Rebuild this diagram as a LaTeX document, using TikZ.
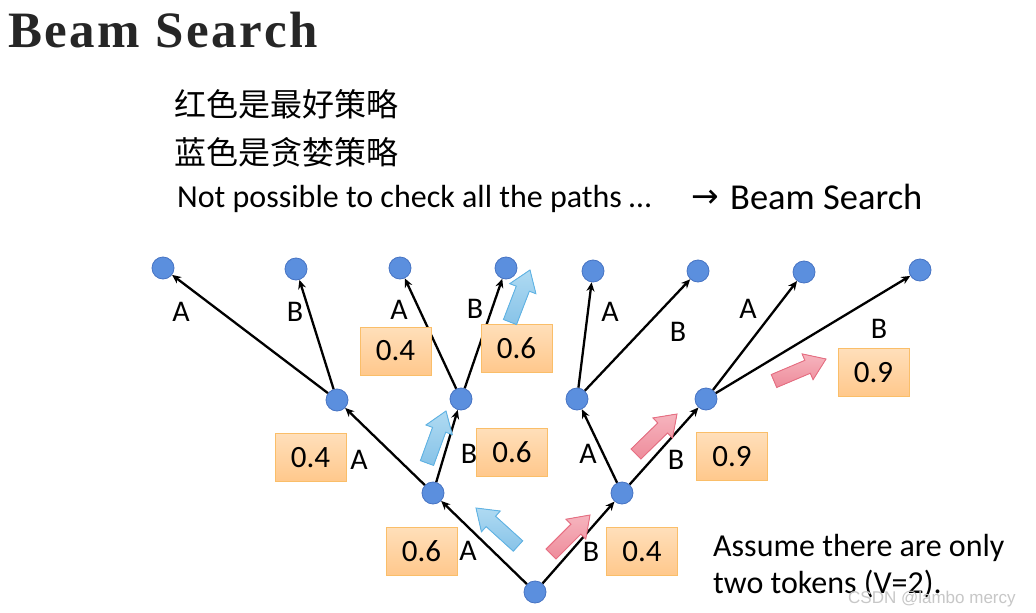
\documentclass[tikz,border=0pt]{standalone}
\usepackage{fontspec}
\setmainfont{Carlito}
\newfontfamily\cjk{Noto Sans CJK SC}
\newfontfamily\titlefont[LetterSpace=5]{Liberation Serif}
\newfontfamily\wmfont{Liberation Sans}
\newfontfamily\symfont{DejaVu Sans}
\usetikzlibrary{arrows.meta,calc}
\definecolor{nodefill}{RGB}{91,143,222}
\definecolor{nodeborder}{RGB}{70,115,195}
\definecolor{boxtop}{RGB}{255,223,186}
\definecolor{boxbot}{RGB}{255,200,140}
\definecolor{boxborder}{RGB}{250,190,105}
\definecolor{bluetop}{RGB}{175,218,242}
\definecolor{bluebot}{RGB}{135,195,232}
\definecolor{blueborder}{RGB}{95,180,230}
\definecolor{redtop}{RGB}{246,180,190}
\definecolor{redbot}{RGB}{238,140,155}
\definecolor{redborder}{RGB}{232,110,130}
\definecolor{titlecol}{RGB}{38,38,38}
\newcommand{\blockarrow}[3]{%
  \coordinate (hb) at ($(#2)!20pt!(#1)$);
  \filldraw[#3] ($(#1)!7pt!90:(#2)$) -- ($(hb)!7pt!90:(#2)$) -- ($(hb)!14pt!90:(#2)$) -- (#2)
    -- ($(hb)!14pt!-90:(#2)$) -- ($(hb)!7pt!-90:(#2)$) -- ($(#1)!7pt!-90:(#2)$) -- cycle;
}
\tikzset{
  tnode/.style={circle, fill=nodefill, draw=nodeborder, line width=0.8pt, minimum size=22pt, inner sep=0pt},
  edge/.style={line width=2.3pt, -{Stealth[length=9pt,width=8pt]}},
  probbox/.style={rectangle, draw=boxborder, line width=1pt, top color=boxtop, bottom color=boxbot,
    minimum width=71pt, minimum height=48pt, inner sep=0pt, font=\fontsize{31}{31}\selectfont},
  lbl/.style={font=\fontsize{30}{30}\selectfont, inner sep=0pt},
  txt/.style={anchor=base west, inner sep=0pt},
  bluearrow/.style={draw=blueborder, line width=0.9pt, top color=bluetop, bottom color=bluebot, line join=miter},
  redarrow/.style={draw=redborder, line width=0.9pt, top color=redtop, bottom color=redbot, line join=miter}
}
\begin{document}
\begin{tikzpicture}[x=1pt,y=-1pt]
\useasboundingbox (0,0) rectangle (1036,613);
\fill[white] (0,0) rectangle (1036,613);

% texts
\node[txt, font=\titlefont\bfseries\fontsize{51}{51}\selectfont, text=titlecol] (title) at (8,47) {Beam Search};
\node[txt, font=\cjk\fontsize{32}{32}\selectfont] (cn1) at (174,116) {红色是最好策略};
\node[txt, font=\cjk\fontsize{32}{32}\selectfont] (cn2) at (174,164) {蓝色是贪婪策略};
\node[txt, font=\fontsize{32}{32}\selectfont] (np) at (177,207) {Not possible to check all the paths …};
\node[inner sep=0pt, font=\symfont\fontsize{33}{33}\selectfont] (arr) at (705,199) {→};
\node[txt, font=\fontsize{36.5}{36.5}\selectfont] (bs) at (730,209) {Beam Search};
\node[txt, font=\fontsize{32}{32}\selectfont] (as1) at (713,556) {Assume there are only};
\node[txt, font=\fontsize{32}{32}\selectfont] (as2) at (713,593) {two tokens (V=2).};

% tree nodes
\node[tnode] (r) at (535,592) {};
\node[tnode] (a) at (433,493) {};
\node[tnode] (b) at (622,493) {};
\node[tnode] (aa) at (337,400) {};
\node[tnode] (ab) at (461,399) {};
\node[tnode] (ba) at (577,399) {};
\node[tnode] (bb) at (706,399) {};
\node[tnode] (aaa) at (163,268) {};
\node[tnode] (aab) at (296,269) {};
\node[tnode] (aba) at (400,268) {};
\node[tnode] (abb) at (506,268) {};
\node[tnode] (baa) at (593,271) {};
\node[tnode] (bab) at (698,271) {};
\node[tnode] (bba) at (804,272) {};
\node[tnode] (bbb) at (920,270) {};

% edges
\draw[edge] (r) -- (a);
\draw[edge] (r) -- (b);
\draw[edge] (a) -- (aa);
\draw[edge] (a) -- (ab);
\draw[edge] (b) -- (ba);
\draw[edge] (b) -- (bb);
\draw[edge] (aa) -- (aaa);
\draw[edge] (aa) -- (aab);
\draw[edge] (ab) -- (aba);
\draw[edge] (ab) -- (abb);
\draw[edge] (ba) -- (baa);
\draw[edge] (ba) -- (bab);
\draw[edge] (bb) -- (bba);
\draw[edge] (bb) -- (bbb);

% edge labels
\node[lbl] (l1) at (181,312) {A};
\node[lbl] (l2) at (295,312) {B};
\node[lbl] (l3) at (399,310) {A};
\node[lbl] (l4) at (475,309) {B};
\node[lbl] (l5) at (610,312) {A};
\node[lbl] (l6) at (678,332) {B};
\node[lbl] (l7) at (748,309) {A};
\node[lbl] (l8) at (879,329) {B};
\node[lbl] (l9) at (359,460) {A};
\node[lbl] (l10) at (469,454) {B};
\node[lbl] (l11) at (588,454) {A};
\node[lbl] (l12) at (676,460) {B};
\node[lbl] (l13) at (468,551) {A};
\node[lbl] (l14) at (591,552) {B};

% probability boxes
\node[probbox] (p1) at (421.5,551) {0.6};
\node[probbox] (p2) at (642,551.5) {0.4};
\node[probbox] (p3) at (310.5,457.5) {0.4};
\node[probbox] (p4) at (512,452) {0.6};
\node[probbox] (p5) at (732,456.5) {0.9};
\node[probbox] (p6) at (395.5,351) {0.4};
\node[probbox] (p7) at (516.5,348) {0.6};
\node[probbox] (p8) at (873.5,372.5) {0.9};

% block arrows
\coordinate (b1t) at (518,546); \coordinate (b1p) at (476,508);
\coordinate (b2t) at (427,463); \coordinate (b2p) at (446,411);
\coordinate (b3t) at (510,322); \coordinate (b3p) at (530,270);
\coordinate (r1t) at (551,554); \coordinate (r1p) at (590,515);
\coordinate (r2t) at (636,454); \coordinate (r2p) at (677,414);
\coordinate (r3t) at (774,381); \coordinate (r3p) at (826,359);
\blockarrow{b1t}{b1p}{bluearrow}
\blockarrow{b2t}{b2p}{bluearrow}
\blockarrow{b3t}{b3p}{bluearrow}
\blockarrow{r1t}{r1p}{redarrow}
\blockarrow{r2t}{r2p}{redarrow}
\blockarrow{r3t}{r3p}{redarrow}

% watermark
\node[txt, font=\wmfont\fontsize{17}{17}\selectfont, text=black!22] (wm) at (848,603) {CSDN @lambo mercy};
\end{tikzpicture}
\end{document}
